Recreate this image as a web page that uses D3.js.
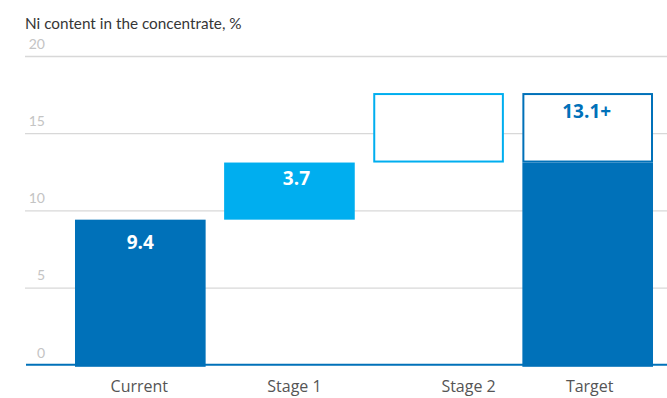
<!DOCTYPE html>
<html>
<head>
<meta charset="utf-8">
<script src="https://cdn.jsdelivr.net/npm/d3@7/dist/d3.min.js"></script>
<style>
  html, body { margin: 0; padding: 0; background: #fff; }
  svg { display: block; }
</style>
</head>
<body>
<svg id="chart" width="667" height="398"></svg>
<script>
// Ni content waterfall: current level, stage gains, target
const categories = ["Current", "Stage 1", "Stage 2", "Target"];
const barStart   = [0, 9.4, 13.1, 0];        // where each solid segment begins
const barValue   = [9.4, 3.7, null, 13.1];   // solid segment height
const boxTop     = [null, null, 17.6, 17.6]; // upper edge of outlined (potential) box
const valueLabels = ["9.4", "3.7", null, "13.1+"];
const yTicks = [0, 5, 10, 15, 20];
const yTitle = "Ni content in the concentrate, %";

const W = 667, H = 398;
const dark = "#0071b9", light = "#00aeef";
const svg = d3.select("#chart");

const y = d3.scaleLinear().domain([0, 20]).range([364.8, 56]);
const x = d3.scaleBand().domain(categories)
  .range([65.75, 662.25]).paddingInner(0.124).paddingOuter(0.062);

// title
svg.append("text").attr("x", 25).attr("y", 29)
  .style("font-family", "Lato, sans-serif")
  .attr("font-size", 15.3).attr("fill", "#363636").text(yTitle);

// grid + tick labels
const yAxis = d3.axisLeft(y).tickValues(yTicks).tickSize(-(W - 25)).tickFormat(d3.format("d"));
const ga = svg.append("g").attr("transform", "translate(25,0)").call(yAxis);
ga.select(".domain").remove();
ga.selectAll(".tick line").attr("stroke", "#d8d8d8").attr("stroke-width", 1.3)
  .filter(d => d === 0).remove();
ga.selectAll(".tick text").attr("x", 20).attr("dy", "-0.55em").attr("text-anchor", "end")
  .attr("fill", "#c4c4c4").attr("font-size", 14)
  .attr("font-family", "Lato, sans-serif");

// outlined boxes (upper potential)
const outline = [light, light, light, dark];
categories.forEach((c, i) => {
  if (boxTop[i] == null) return;
  const bottom = barStart[i] + (barValue[i] || 0);
  svg.append("rect")
    .attr("x", x(c) + 1).attr("width", x.bandwidth() - 2)
    .attr("y", y(boxTop[i]) + 1).attr("height", y(bottom) - y(boxTop[i]) - 2)
    .attr("fill", "#fff").attr("stroke", outline[i]).attr("stroke-width", 2);
});

// solid segments
const fills = [dark, light, light, dark];
categories.forEach((c, i) => {
  if (barValue[i] == null) return;
  const top = y(barStart[i] + barValue[i]);
  const bot = barStart[i] === 0 ? y(0) + 2 : y(barStart[i]);
  svg.append("rect")
    .attr("x", x(c)).attr("width", x.bandwidth())
    .attr("y", top).attr("height", bot - top)
    .attr("fill", fills[i]);
});

// baseline
svg.append("line").attr("x1", 26).attr("x2", W)
  .attr("y1", y(0)).attr("y2", y(0))
  .attr("stroke", dark).attr("stroke-width", 2);

// value labels, placed just under the top edge of their segment/box
const labelTop = [9.4, 13.1, null, 17.6];
const labelDrop = [29, 22, null, 25];
const labelShift = [0, 7, null, -1];
const labelColor = ["#fff", "#fff", null, dark];
categories.forEach((c, i) => {
  if (valueLabels[i] == null) return;
  svg.append("text")
    .attr("x", x(c) + x.bandwidth() / 2 + labelShift[i])
    .attr("y", y(labelTop[i]) + labelDrop[i])
    .attr("text-anchor", "middle")
    .style("font-family", "'Open Sans', sans-serif")
    .attr("font-size", 19).attr("font-weight", 700)
    .attr("fill", labelColor[i])
    .text(valueLabels[i]);
});

// category labels
const nudge = { "Current": -1, "Stage 1": 5, "Stage 2": 30, "Target": 2 };
categories.forEach(c => {
  svg.append("text")
    .attr("x", x(c) + x.bandwidth() / 2 + nudge[c])
    .attr("y", 392)
    .attr("text-anchor", "middle")
    .style("font-family", "'Open Sans', sans-serif")
    .attr("font-size", 16).attr("fill", "#555")
    .text(c);
});
</script>
</body>
</html>
